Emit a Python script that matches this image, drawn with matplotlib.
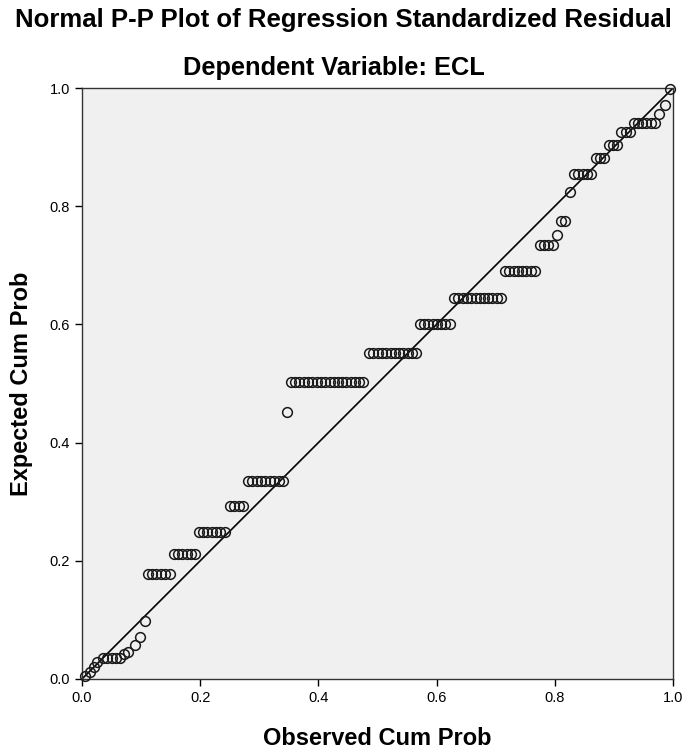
import matplotlib
matplotlib.use("Agg")
import matplotlib.pyplot as plt

plt.rcParams["font.family"] = ["Liberation Sans", "DejaVu Sans"]

TITLE = "Normal P-P Plot of Regression Standardized Residual"
SUBTITLE = "Dependent Variable: ECL"
X_LABEL = "Observed Cum Prob"
Y_LABEL = "Expected Cum Prob"
TICKS = [0.0, 0.2, 0.4, 0.6, 0.8, 1.0]
TICK_LABELS = ["0.0", "0.2", "0.4", "0.6", "0.8", "1.0"]

# observed cumulative probability (x) and expected cumulative probability (y),
# read off the reference picture group by group
observed_low = [0.005, 0.013, 0.020, 0.026, 0.036, 0.043, 0.050, 0.057, 0.064,
                0.071, 0.078, 0.089, 0.098, 0.107]
expected_low = [0.005, 0.012, 0.021, 0.028, 0.035, 0.035, 0.035, 0.035, 0.035,
                0.043, 0.046, 0.058, 0.071, 0.098]

observed_mid = [0.112, 0.119, 0.126, 0.134, 0.141, 0.149,
                0.156, 0.163, 0.170, 0.178, 0.185, 0.192,
                0.198, 0.205, 0.212, 0.220, 0.227, 0.234, 0.242,
                0.250, 0.258, 0.265, 0.272,
                0.281, 0.288, 0.296, 0.303, 0.310, 0.318, 0.325, 0.333, 0.340,
                0.347,
                0.354, 0.361, 0.368, 0.375, 0.383, 0.390, 0.397, 0.404, 0.411,
                0.419, 0.426, 0.433, 0.440, 0.447, 0.455, 0.462, 0.469, 0.476]
expected_mid = [0.178] * 6 + [0.212] * 6 + [0.249] * 7 + [0.292] * 4 + \
               [0.335] * 9 + [0.452] + [0.502] * 18

observed_high = [0.486, 0.493, 0.500, 0.507, 0.514, 0.522, 0.529, 0.536, 0.543,
                 0.551, 0.558, 0.565,
                 0.572, 0.579, 0.586, 0.594, 0.601, 0.608, 0.615, 0.623,
                 0.630, 0.637, 0.644, 0.651, 0.658, 0.666, 0.673, 0.680, 0.687,
                 0.694, 0.702, 0.709,
                 0.716, 0.723, 0.731, 0.738, 0.745, 0.752, 0.760, 0.767,
                 0.775, 0.782, 0.789, 0.797,
                 0.804, 0.811, 0.818, 0.826,
                 0.833, 0.840, 0.848, 0.855, 0.862,
                 0.869, 0.876, 0.884,
                 0.891, 0.898, 0.905,
                 0.912, 0.920, 0.927,
                 0.934, 0.941, 0.948, 0.955, 0.962, 0.969,
                 0.977, 0.986, 0.995]
expected_high = [0.551] * 12 + [0.600] * 8 + [0.645] * 12 + [0.691] * 8 + \
                [0.734] * 4 + [0.751, 0.775, 0.775, 0.824] + [0.854] * 5 + \
                [0.882] * 3 + [0.903] * 3 + [0.925] * 3 + [0.940] * 6 + \
                [0.956, 0.971, 0.998]

observed = observed_low + observed_mid + observed_high
expected = expected_low + expected_mid + expected_high

fig = plt.figure(figsize=(6.88, 7.49), dpi=100)
ax = fig.add_axes([0.1192, 0.0935, 0.859, 0.789])
ax.set_facecolor("#f0f0f0")

ax.plot([0, 1], [0, 1], color="black", lw=1.2, zorder=2)
ax.plot(observed, expected, linestyle="none", marker="o", markersize=7,
        markerfacecolor="none", markeredgecolor="#1a1a1a", markeredgewidth=1.1,
        zorder=3, clip_on=False)

ax.set_xlim(0, 1)
ax.set_ylim(0, 1)
ax.set_xticks(TICKS)
ax.set_xticklabels(TICK_LABELS)
ax.set_yticks(TICKS)
ax.set_yticklabels(TICK_LABELS)
ax.tick_params(direction="out", length=5, width=1, labelsize=10.5, colors="black")
for spine in ax.spines.values():
    spine.set_color("#333333")
    spine.set_linewidth(1.0)

ax.set_xlabel(X_LABEL, fontsize=17, fontweight="bold", labelpad=16)
ax.set_ylabel(Y_LABEL, fontsize=17, fontweight="bold", labelpad=12)

fig.text(0.4995, 0.973, TITLE, ha="center", va="center", fontsize=18.5, fontweight="bold")
fig.text(0.486, 0.909, SUBTITLE, ha="center", va="center", fontsize=18.3, fontweight="bold")

fig.savefig("out.png", dpi=100, facecolor="white")
